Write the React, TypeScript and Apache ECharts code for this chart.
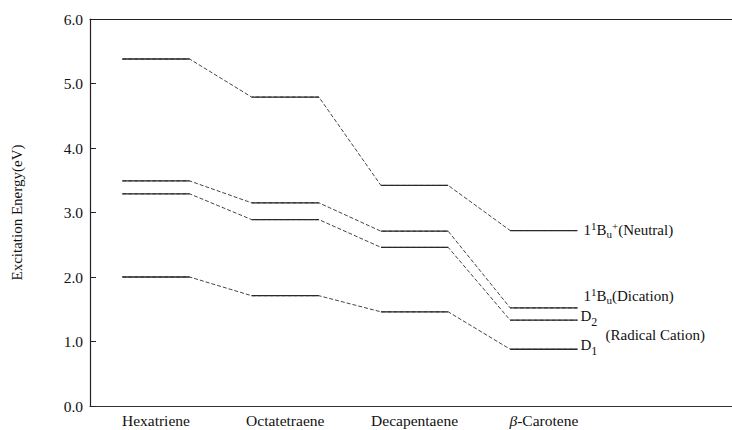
import React, { useEffect, useRef } from "react";
import * as echarts from "echarts";

const categories = ["Hexatriene", "Octatetraene", "Decapentaene", "β-Carotene"];
const neutral = [5.38, 4.79, 3.42, 2.72];
const dication = [3.49, 3.15, 2.71, 1.52];
const d2 = [3.29, 2.89, 2.46, 1.33];
const d1 = [2.0, 1.71, 1.46, 0.88];
const yTicks = [0, 1, 2, 3, 4, 5, 6];

const FONT = "'Liberation Serif', 'Times New Roman', serif";
const HALF = 0.26;

const rich = {
  n: { fontFamily: FONT, fontSize: 15, color: "#111", lineHeight: 19 },
  sup: { fontFamily: FONT, fontSize: 11, color: "#111", lineHeight: 11, padding: [0, 0, 8, 0] },
  sub: { fontFamily: FONT, fontSize: 11, color: "#111", lineHeight: 11, padding: [9, 0, 0, 0] },
  sub2: { fontFamily: FONT, fontSize: 12, color: "#111", lineHeight: 12, padding: [12, 0, 0, 0] },
};

const levels = [
  { name: "neutral", values: neutral, label: "{n|1}{sup|1}{n|B}{sub|u}{sup|+}{n|(Neutral)}", offset: [0, -1] },
  { name: "dication", values: dication, label: "{n|1}{sup|1}{n|B}{sub|u}{n|(Dication)}", offset: [0, -12] },
  { name: "d2", values: d2, label: "{n|D}{sub2|2}", offset: [-3, -4] },
  { name: "d1", values: d1, label: "{n|D}{sub2|1}", offset: [-3, -4] },
];

export default function App() {
  const ref = useRef<HTMLDivElement>(null);
  useEffect(() => {
    if (!ref.current) return;
    const chart = echarts.init(ref.current, null, { renderer: "svg" });
    const series: any[] = [];
    levels.forEach((lv) => {
      const pts: number[][] = [];
      lv.values.forEach((v, i) => {
        pts.push([i - HALF, v], [i + HALF, v]);
      });
      series.push({
        type: "line",
        name: lv.name + "-link",
        data: pts,
        symbol: "none",
        lineStyle: { color: "#444", width: 1, type: [4, 2] },
        endLabel: {
          show: true,
          formatter: lv.label,
          rich,
          distance: 6,
          offset: lv.offset,
        },
        z: 2,
      });
      lv.values.forEach((v, i) => {
        series.push({
          type: "line",
          name: lv.name + "-" + i,
          data: [
            [i - HALF, v],
            [i + HALF, v],
          ],
          symbol: "none",
          lineStyle: { color: "#2a2a2a", width: 1.3, type: "solid" },
          z: 3,
        });
      });
    });
    const last = categories.length - 1;
    series.push({
      type: "scatter",
      name: "radical-cation",
      data: [[last + HALF, (d2[last] + d1[last]) / 2]],
      symbolSize: 0,
      itemStyle: { color: "#fff" },
      label: {
        show: true,
        position: "right",
        distance: 5,
        offset: [23, 0],
        formatter: "(Radical Cation)",
        fontFamily: FONT,
        fontSize: 15,
        color: "#111",
        textBorderWidth: 0,
        opacity: 1,
      },
      emphasis: { disabled: true },
      z: 5,
    });

    chart.setOption({
      animation: false,
      backgroundColor: "#fff",
      grid: { left: 90, right: 0, top: 19, bottom: 24 },
      xAxis: [
        {
          type: "value",
          position: "bottom",
          min: -0.51,
          max: 4.455,
          axisLine: { show: true, onZero: false, lineStyle: { color: "#333", width: 1 } },
          axisTick: { show: false },
          splitLine: { show: false },
          axisLabel: {
            customValues: [0, 1, 2, 3],
            margin: 6,
            fontFamily: FONT,
            fontSize: 15.5,
            color: "#111",
            formatter: (v: number) => {
              const s = categories[Math.round(v)] ?? "";
              if (s.startsWith("β")) return "{b|β}" + s.slice(1);
              return s;
            },
            rich: { b: { fontFamily: FONT, fontSize: 15.5, fontStyle: "italic", color: "#111" } },
          },
        },
        {
          type: "value",
          position: "top",
          min: -0.51,
          max: 4.455,
          axisLine: { show: true, onZero: false, lineStyle: { color: "#222", width: 1 } },
          axisTick: { show: false },
          splitLine: { show: false },
          axisLabel: { show: false },
        },
      ],
      yAxis: {
        type: "value",
        min: yTicks[0],
        max: yTicks[yTicks.length - 1],
        interval: 1,
        name: "Excitation Energy(eV)",
        nameLocation: "middle",
        nameGap: 66,
        nameTextStyle: { fontFamily: FONT, fontSize: 15, color: "#111" },
        axisLine: { show: true, onZero: false, lineStyle: { color: "#222", width: 1.2 } },
        axisTick: { show: true, inside: true, length: 6, lineStyle: { color: "#222" } },
        splitLine: { show: false },
        axisLabel: {
          margin: 7,
          fontFamily: FONT,
          fontSize: 15.5,
          color: "#111",
          formatter: (v: number) => v.toFixed(1),
        },
      },
      series,
    });
    return () => chart.dispose();
  }, []);
  return (
    <div
      ref={ref}
      style={{ position: "fixed", left: 0, top: 0, width: 732, height: 430, background: "#fff" }}
    />
  );
}
